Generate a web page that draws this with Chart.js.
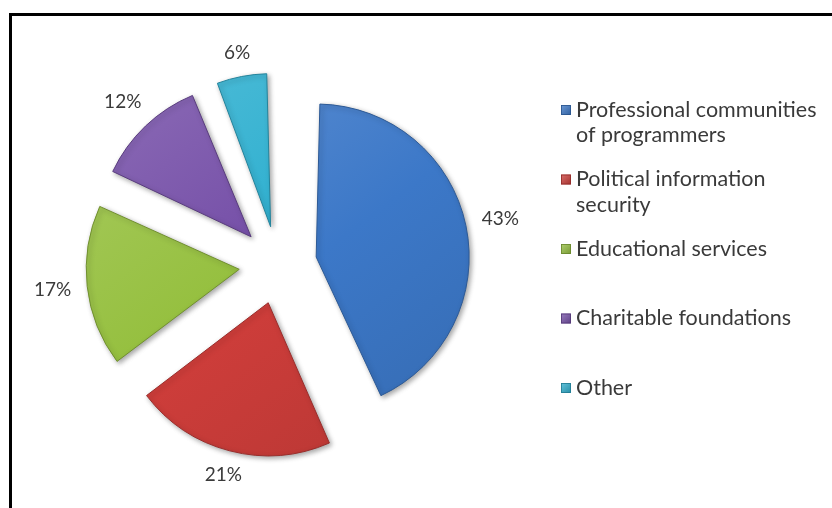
<!DOCTYPE html>
<html>
<head>
<meta charset="utf-8">
<script src="https://cdn.jsdelivr.net/npm/chart.js@4"></script>
<style>
html,body{margin:0;padding:0;background:#fff;}
#wrap{position:relative;width:832px;height:508px;}
</style>
</head>
<body>
<div id="wrap"><canvas id="c" width="832" height="508"></canvas></div>
<script>
const categories = [
  ["Professional communities", "of programmers"],
  ["Political information", "security"],
  ["Educational services"],
  ["Charitable foundations"],
  ["Other"]
];
const shares = [43, 21, 17, 12, 6];
const baseColors = ["#3c78c8", "#cd3d3a", "#96c040", "#7650a8", "#30b0d0"];

const FONT = "Lato, 'Open Sans', sans-serif";
const TEXT_COLOR = "#3a3a3a";
const EXPLODE = 39;   // outward shift of every slice, px
const RADIUS = 153;

function fixOf(circ) { return 1 - Math.sin(Math.min(Math.PI, circ)); }

function sliceFill(context) {
  const chart = context.chart;
  const area = chart.chartArea;
  const base = baseColors[context.dataIndex];
  if (!area) return base;
  const cx = (area.left + area.right) / 2, cy = (area.top + area.bottom) / 2;
  const g = chart.ctx.createLinearGradient(cx - 150, cy - 200, cx + 150, cy + 200);
  g.addColorStop(0, shade(base, 0.18));
  g.addColorStop(0.5, base);
  g.addColorStop(1, shade(base, -0.12));
  return g;
}

function shade(hex, f) {
  const n = parseInt(hex.slice(1), 16);
  let r = (n >> 16) & 255, g = (n >> 8) & 255, b = n & 255;
  if (f >= 0) { r += (255 - r) * f; g += (255 - g) * f; b += (255 - b) * f; }
  else { r *= 1 + f; g *= 1 + f; b *= 1 + f; }
  return `rgb(${Math.round(r)},${Math.round(g)},${Math.round(b)})`;
}

// Chart.js grows an exploded arc's radius by offset/4 * fix; undo that so all slices share one radius.
const equalRadiusPlugin = {
  id: 'equalRadius',
  afterDatasetsUpdate(chart) {
    chart.getDatasetMeta(0).data.forEach(arc => {
      arc.outerRadius = RADIUS - EXPLODE * fixOf(arc.circumference);
    });
  }
};

const framePlugin = {
  id: 'frame',
  beforeDraw(chart) {
    const ctx = chart.ctx;
    ctx.save();
    ctx.fillStyle = '#fff';
    ctx.fillRect(0, 0, chart.width, chart.height);
    ctx.strokeStyle = '#000';
    ctx.lineWidth = 3;
    ctx.beginPath();
    ctx.moveTo(10.5, chart.height + 5);
    ctx.lineTo(10.5, 14.5);
    ctx.lineTo(chart.width + 5, 14.5);
    ctx.stroke();
    ctx.restore();
  }
};

const shadowPlugin = {
  id: 'sliceShadow',
  beforeDatasetsDraw(chart) {
    const ctx = chart.ctx;
    ctx.save();
    ctx.shadowColor = 'rgba(0,0,0,0.35)';
    ctx.shadowBlur = 5;
    ctx.shadowOffsetX = 2;
    ctx.shadowOffsetY = 2;
  },
  afterDatasetsDraw(chart) {
    chart.ctx.restore();
  }
};

const labelPlugin = {
  id: 'pctLabels',
  afterDatasetsDraw(chart) {
    const ctx = chart.ctx;
    const meta = chart.getDatasetMeta(0);
    const ds = chart.data.datasets[0];
    ctx.save();
    ctx.font = "19px " + FONT;
    ctx.fillStyle = TEXT_COLOR;
    ctx.textAlign = 'center';
    ctx.textBaseline = 'middle';
    meta.data.forEach((arc, i) => {
      const mid = (arc.startAngle + arc.endAngle) / 2;
      const dx = Math.cos(mid), dy = Math.sin(mid);
      const dist = RADIUS + EXPLODE + 12 + 22 * Math.abs(dx) + 8 * Math.abs(dy);
      ctx.fillText(ds.data[i] + '%', arc.x + dx * dist, arc.y + dy * dist);
    });
    ctx.restore();
  }
};

const legendPlugin = {
  id: 'sideLegend',
  afterDraw(chart) {
    const ctx = chart.ctx;
    const labels = chart.data.labels;
    const x0 = 561, tx = 576, y0 = 110, step = 69.5, lh = 25.5;
    ctx.save();
    ctx.font = "21.5px " + FONT;
    ctx.textBaseline = 'middle';
    ctx.textAlign = 'left';
    labels.forEach((lines, i) => {
      const y = y0 + i * step;
      const base = baseColors[i];
      const g = ctx.createLinearGradient(x0, y - 5, x0 + 10, y + 5);
      g.addColorStop(0, shade(base, 0.25));
      g.addColorStop(1, shade(base, -0.2));
      ctx.fillStyle = g;
      ctx.fillRect(x0, y - 5, 10, 10);
      ctx.strokeStyle = shade(base, -0.3);
      ctx.lineWidth = 0.8;
      ctx.strokeRect(x0 + 0.5, y - 4.5, 9, 9);
      ctx.fillStyle = TEXT_COLOR;
      lines.forEach((t, k) => ctx.fillText(t, tx, y + k * lh));
    });
    ctx.restore();
  }
};

new Chart(document.getElementById('c'), {
  type: 'pie',
  data: {
    labels: categories,
    datasets: [{
      data: shares,
      backgroundColor: sliceFill,
      borderColor: baseColors.map(c => shade(c, -0.25)),
      borderWidth: 1,
      offset: 4 * EXPLODE,
      radius: RADIUS,
      clip: false
    }]
  },
  options: {
    responsive: false,
    animation: false,
    layout: { padding: { left: 0, right: 276, top: 22, bottom: 0 } },
    plugins: {
      legend: { display: false },
      tooltip: { enabled: false }
    }
  },
  plugins: [equalRadiusPlugin, framePlugin, shadowPlugin, labelPlugin, legendPlugin]
});
</script>
</body>
</html>
